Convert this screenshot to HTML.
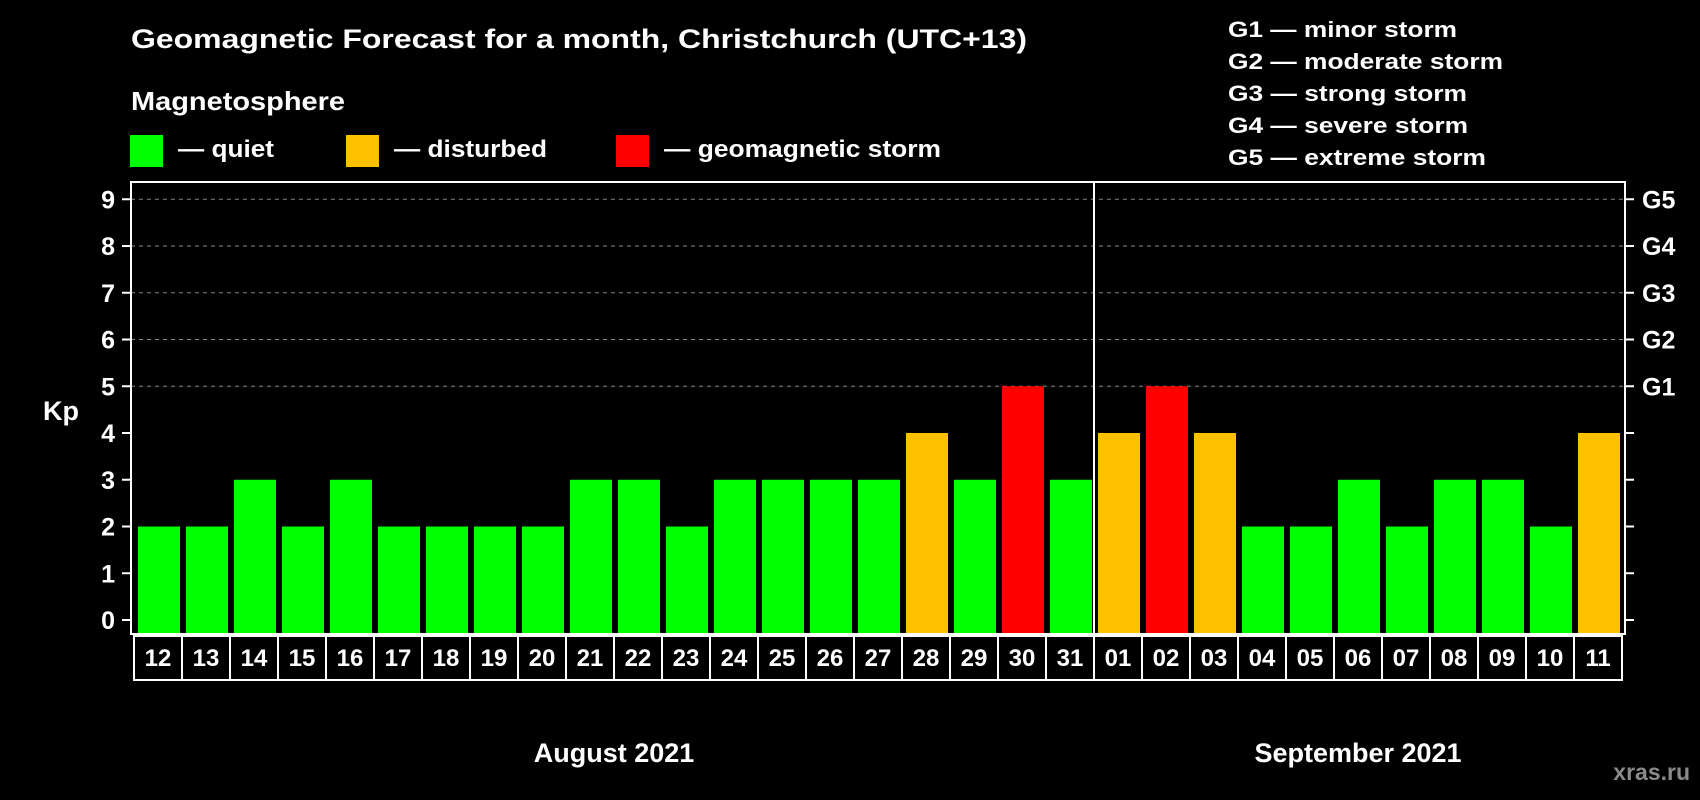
<!DOCTYPE html>
<html><head><meta charset="utf-8"><style>
html,body{margin:0;padding:0;background:#000;}
svg{display:block;font-family:"Liberation Sans",Arial,sans-serif;font-weight:bold;}
</style></head><body>
<svg id="chart" width="1700" height="800" viewBox="0 0 1700 800" xmlns="http://www.w3.org/2000/svg">
<rect width="1700" height="800" fill="#000"/>
<text x="131" y="48" font-size="27" fill="#fff" textLength="896" lengthAdjust="spacingAndGlyphs">Geomagnetic Forecast for a month, Christchurch (UTC+13)</text>
<text x="131" y="110" font-size="26" fill="#fff" textLength="214" lengthAdjust="spacingAndGlyphs">Magnetosphere</text>
<g>
<rect x="130" y="135" width="33" height="32" fill="#00ff00"/>
<text x="178" y="157" font-size="24" fill="#fff" textLength="96" lengthAdjust="spacingAndGlyphs">— quiet</text></g>
<g>
<rect x="346" y="135" width="33" height="32" fill="#ffc000"/>
<text x="394" y="157" font-size="24" fill="#fff" textLength="153" lengthAdjust="spacingAndGlyphs">— disturbed</text></g>
<g>
<rect x="616" y="135" width="33" height="32" fill="#ff0000"/>
<text x="664" y="157" font-size="24" fill="#fff" textLength="277" lengthAdjust="spacingAndGlyphs">— geomagnetic storm</text></g>
<g font-size="22" fill="#fff">
<text x="1228" y="37" textLength="229" lengthAdjust="spacingAndGlyphs">G1 — minor storm</text>
<text x="1228" y="69" textLength="275" lengthAdjust="spacingAndGlyphs">G2 — moderate storm</text>
<text x="1228" y="101" textLength="239" lengthAdjust="spacingAndGlyphs">G3 — strong storm</text>
<text x="1228" y="133" textLength="240" lengthAdjust="spacingAndGlyphs">G4 — severe storm</text>
<text x="1228" y="165" textLength="258" lengthAdjust="spacingAndGlyphs">G5 — extreme storm</text>
</g>
<text x="43" y="420" font-size="27" fill="#fff">Kp</text>
<g id="grid"></g>
<g id="bars"></g>
<g id="axes"></g>
<g id="xlabels"></g>
<text x="614" y="762" font-size="27" fill="#fff" text-anchor="middle">August 2021</text>
<text x="1358" y="762" font-size="27" fill="#fff" text-anchor="middle">September 2021</text>
<text x="1690" y="780" font-size="23" fill="#8a8a8a" text-anchor="end">xras.ru</text>
</svg>
<script>
const days = ["12","13","14","15","16","17","18","19","20","21","22","23","24","25","26","27","28","29","30","31","01","02","03","04","05","06","07","08","09","10","11"];
const kpValues = [2,2,3,2,3,2,2,2,2,3,3,2,3,3,3,3,4,3,5,3,4,5,4,2,2,3,2,3,3,2,4];
const yTicks = [0,1,2,3,4,5,6,7,8,9];
const gLabels = ["G1","G2","G3","G4","G5"];
const augustCount = 20;

const NS = "http://www.w3.org/2000/svg";
const plotL = 131, plotR = 1625, plotT = 182, plotB = 634;
const boxL = 134, boxW = 48;
function yScale(v){ return 620 - v * 46.75; }
function xBox(i){ return boxL + i * boxW; }
function colorFor(v){ return v >= 5 ? "#ff0000" : (v >= 4 ? "#ffc000" : "#00ff00"); }
function mk(tag, attrs, parent){ const e = document.createElementNS(NS, tag); for (const k in attrs) e.setAttribute(k, attrs[k]); parent.appendChild(e); return e; }

const grid = document.getElementById("grid");
const bars = document.getElementById("bars");
const axes = document.getElementById("axes");
const xl = document.getElementById("xlabels");

yTicks.forEach(function(t){
  const y = yScale(t);
  if (t >= 5) {
    const g = mk("line", {x1: plotL, x2: plotR, y1: y, y2: y, stroke: "#888", "stroke-width": 1, "stroke-dasharray": "4,4"}, grid);
    
    
  }
  const tl = mk("line", {x1: 122, x2: plotL, y1: y, y2: y, stroke: "#fff", "stroke-width": 2}, axes);
  
  
  const tr = mk("line", {x1: plotR, x2: plotR + 9, y1: y, y2: y, stroke: "#fff", "stroke-width": 2}, axes);
  
  
  const lab = mk("text", {x: 115, y: y + 9, "font-size": 25, fill: "#fff", "text-anchor": "end"}, axes);
  lab.textContent = t;
  
  
  if (t >= 5) {
    const gl = mk("text", {x: 1642, y: y + 9, "font-size": 25, fill: "#fff"}, axes);
    gl.textContent = gLabels[t - 5];
    
    
  }
});

kpValues.forEach(function(v, i){
  const x = xBox(i) + 4;
  const y = yScale(v);
  const r = mk("rect", {x: x, y: y, width: 42, height: plotB - y, fill: colorFor(v)}, bars);
  
  
});

const frame = mk("rect", {x: plotL, y: plotT, width: plotR - plotL, height: plotB - plotT, fill: "none", stroke: "#fff", "stroke-width": 2}, axes);


const divX = xBox(augustCount);
const div = mk("line", {x1: divX, x2: divX, y1: plotT, y2: plotB, stroke: "#fff", "stroke-width": 2}, axes);



days.forEach(function(d, i){
  const x = xBox(i);
  const b = mk("rect", {x: x, y: 636, width: boxW, height: 44, fill: "none", stroke: "#fff", "stroke-width": 2}, xl);
  
  
  const t = mk("text", {x: x + boxW / 2, y: 666, "font-size": 24, fill: "#fff", "text-anchor": "middle"}, xl);
  t.textContent = d;
  
  
});
</script>
</body></html>
